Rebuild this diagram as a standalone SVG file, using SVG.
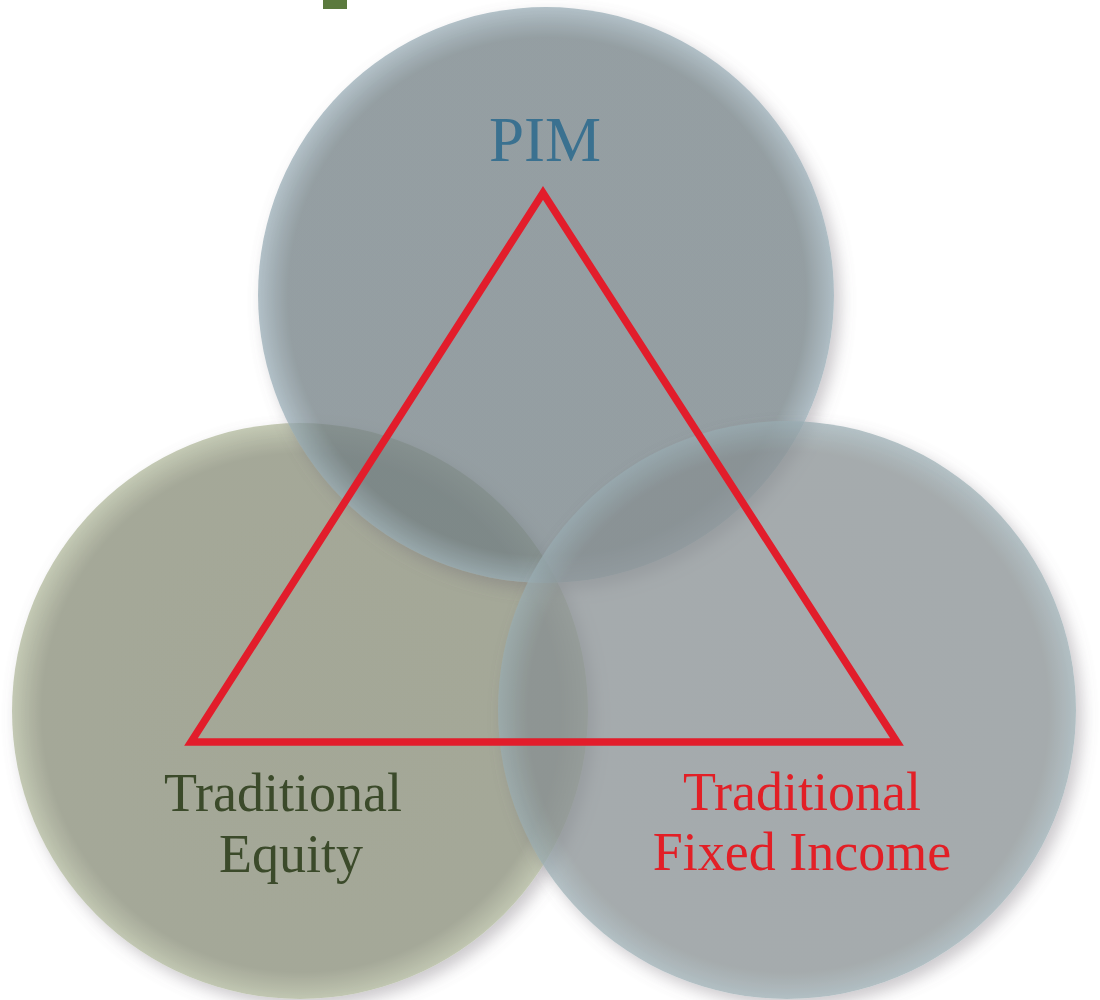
<svg xmlns="http://www.w3.org/2000/svg" width="1100" height="1000" viewBox="0 0 1100 1000">
  <style>
    .circle { fill-opacity: 0.72; filter: url(#shadow); }
    .lbl { font-family: "Liberation Serif", "DejaVu Serif", serif; text-anchor: middle; }
    .tri { fill: none; stroke: #e21d2b; stroke-width: 7.5; stroke-linejoin: miter; }
  </style>
  <defs>
    <filter id="shadow" x="-20%" y="-20%" width="140%" height="140%">
      <feOffset in="SourceAlpha" dx="6" dy="7" result="off"/>
      <feGaussianBlur in="off" stdDeviation="8" result="blur"/>
      <feFlood flood-color="#6e6670" flood-opacity="0.5" result="col"/>
      <feComposite in="col" in2="blur" operator="in" result="sh"/>
      <feComposite in="sh" in2="SourceAlpha" operator="out" result="shOut"/>
      <feMerge>
        <feMergeNode in="shOut"/>
        <feMergeNode in="SourceGraphic"/>
      </feMerge>
    </filter>
    <radialGradient id="gTop" cx="0.5" cy="0.5" r="0.5" fx="0.52" fy="0.53">
      <stop offset="0" stop-color="#717f84"/>
      <stop offset="0.9" stop-color="#717f84"/>
      <stop offset="1" stop-color="#95a9b3"/>
    </radialGradient>
    <radialGradient id="gLeft" cx="0.5" cy="0.5" r="0.5" fx="0.52" fy="0.53">
      <stop offset="0" stop-color="#868b75"/>
      <stop offset="0.9" stop-color="#878c76"/>
      <stop offset="1" stop-color="#adb598"/>
    </radialGradient>
    <radialGradient id="gRight" cx="0.5" cy="0.5" r="0.5" fx="0.52" fy="0.53">
      <stop offset="0" stop-color="#878f91"/>
      <stop offset="0.9" stop-color="#889092"/>
      <stop offset="1" stop-color="#98abb1"/>
    </radialGradient>
  </defs>

  <rect id="corner-mark" x="323" y="0" width="24" height="9" fill="#5b7a3e"/>

  <g id="node-equity">
    <circle class="circle" cx="300" cy="711" r="288" fill="url(#gLeft)"/>
  </g>
  <g id="node-pim">
    <circle class="circle" cx="546" cy="295" r="288" fill="url(#gTop)"/>
  </g>
  <g id="node-fixed-income">
    <circle class="circle" cx="787" cy="710" r="289" fill="url(#gRight)"/>
  </g>

  <g id="connectors">
    <polygon class="tri" points="543,193 191,742 897,742"/>
  </g>

  <g id="labels">
    <text class="lbl" x="545" y="161" font-size="63" fill="#3a7190">PIM</text>
    <text class="lbl" x="283" y="811" font-size="54" fill="#3b4a2a">Traditional</text>
    <text class="lbl" x="291" y="872" font-size="54" fill="#3b4a2a">Equity</text>
    <text class="lbl" x="802" y="810" font-size="54" fill="#e21f26">Traditional</text>
    <text class="lbl" x="802" y="870" font-size="54" fill="#e21f26">Fixed Income</text>
  </g>
</svg>
